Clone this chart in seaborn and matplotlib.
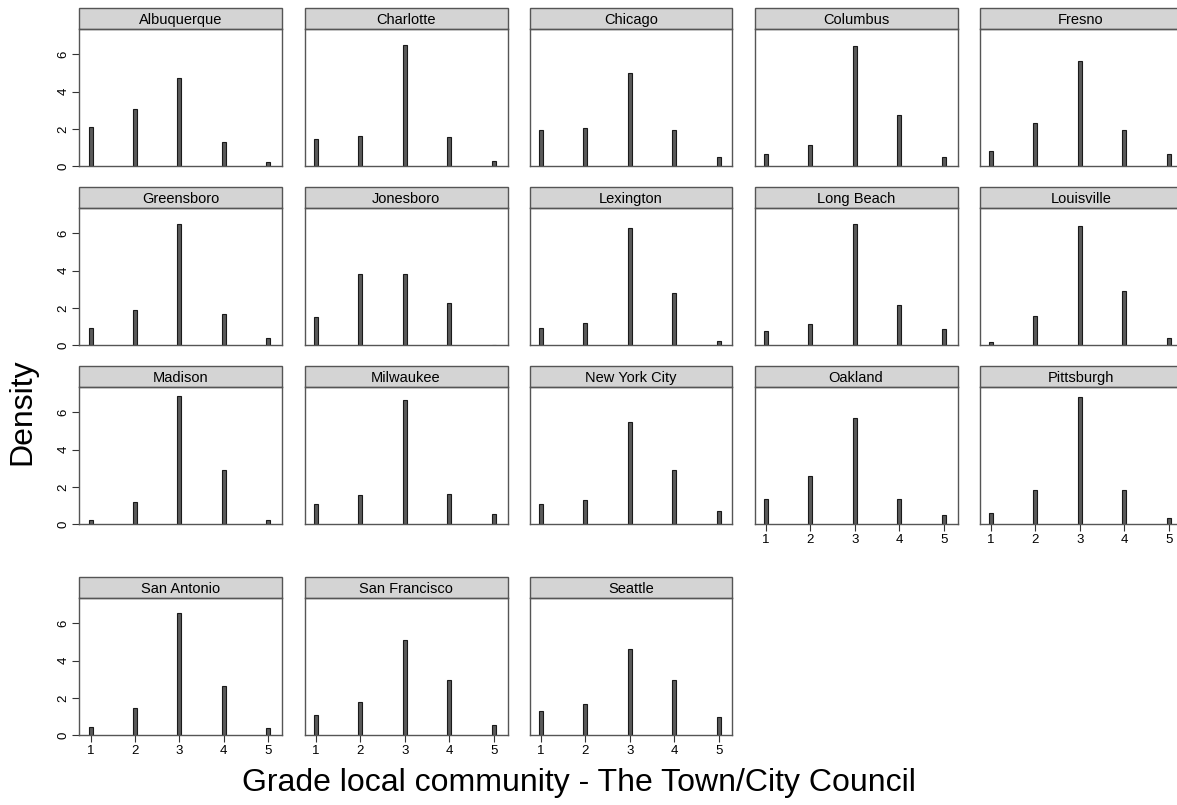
import matplotlib.pyplot as plt
import numpy as np
import pandas as pd
import seaborn as sns
from matplotlib.patches import Rectangle

cities = [
    "Albuquerque", "Charlotte", "Chicago", "Columbus", "Fresno",
    "Greensboro", "Jonesboro", "Lexington", "Long Beach", "Louisville",
    "Madison", "Milwaukee", "New York City", "Oakland", "Pittsburgh",
    "San Antonio", "San Francisco", "Seattle",
]
grades = [1, 2, 3, 4, 5]

# density per grade (1..5)
albuquerque = [2.08, 3.05, 4.76, 1.28, 0.22]
charlotte = [1.44, 1.63, 6.52, 1.54, 0.29]
chicago = [1.96, 2.03, 4.99, 1.94, 0.48]
columbus = [0.63, 1.11, 6.47, 2.73, 0.47]
fresno = [0.81, 2.34, 5.66, 1.94, 0.66]
greensboro = [0.92, 1.88, 6.50, 1.68, 0.38]
jonesboro = [1.50, 3.82, 3.82, 2.26, 0.0]
lexington = [0.92, 1.16, 6.32, 2.79, 0.20]
long_beach = [0.74, 1.14, 6.49, 2.17, 0.87]
louisville = [0.16, 1.56, 6.39, 2.92, 0.36]
madison = [0.24, 1.21, 6.87, 2.88, 0.24]
milwaukee = [1.05, 1.54, 6.69, 1.63, 0.56]
new_york_city = [1.07, 1.28, 5.48, 2.88, 0.72]
oakland = [1.32, 2.57, 5.70, 1.32, 0.51]
pittsburgh = [0.61, 1.83, 6.84, 1.83, 0.34]
san_antonio = [0.45, 1.46, 6.56, 2.64, 0.36]
san_francisco = [1.10, 1.76, 5.10, 2.96, 0.56]
seattle = [1.28, 1.67, 4.62, 2.95, 0.95]

series = [
    albuquerque, charlotte, chicago, columbus, fresno,
    greensboro, jonesboro, lexington, long_beach, louisville,
    madison, milwaukee, new_york_city, oakland, pittsburgh,
    san_antonio, san_francisco, seattle,
]

rows = []
for city, vals in zip(cities, series):
    for grade, d in zip(grades, vals):
        rows.append({"city": city, "grade": grade, "density": d})
df = pd.DataFrame(rows)

sns.set_theme(style="white")
plt.rcParams["font.family"] = ["Liberation Sans", "DejaVu Sans"]
plt.rcParams["text.color"] = "black"
plt.rcParams["xtick.color"] = "black"
plt.rcParams["ytick.color"] = "black"

W, H = 1177, 805
g = sns.FacetGrid(
    df, col="city", col_wrap=5, col_order=cities,
    sharex=True, sharey=True, despine=False,
)
g.map_dataframe(
    sns.histplot, x="grade", weights="density", discrete=True,
    shrink=0.09, stat="count", color="#5a5a5a", edgecolor="#1a1a1a",
    linewidth=0.8, alpha=1,
)
g.set_titles(template="")
g.set_axis_labels("", "")
fig = g.figure
fig.set_size_inches(W / 100, H / 100)

col_left = [79, 304.5, 529.5, 754.5, 979.5]
panel_w = 203
row_top = [29, 208, 387, 598]
panel_h = 137
strip_h = 21

for i, (ax, city) in enumerate(zip(g.axes.flat, cities)):
    r, c = divmod(i, 5)
    x0 = col_left[c]
    y_bottom = row_top[r] + panel_h
    ax.set_position([x0 / W, 1 - y_bottom / H, panel_w / W, panel_h / H])
    ax.set_xlim(0.74, 5.31)
    ax.set_ylim(0, 7.37)
    ax.set_xticks(grades)
    ax.set_yticks([0, 2, 4, 6])
    ax.set_xlabel("")
    ax.set_ylabel("")
    for sp in ax.spines.values():
        sp.set_color("#555555")
        sp.set_linewidth(1.0)
    show_x = i >= 13
    show_y = c == 0
    ax.tick_params(
        axis="x", bottom=show_x, labelbottom=show_x, direction="out",
        length=5, width=0.8, color="#333333", labelcolor="black",
        labelsize=9.5, pad=2,
    )
    ax.tick_params(
        axis="y", left=show_y, labelleft=show_y, direction="out",
        length=5, width=0.8, color="#333333", labelcolor="black",
        labelsize=9.5, pad=2, labelrotation=90,
    )
    for lab in ax.get_yticklabels():
        lab.set_va("center")
    frac = strip_h / panel_h
    ax.add_patch(Rectangle(
        (0, 1), 1, frac, transform=ax.transAxes, clip_on=False,
        facecolor="#d4d4d4", edgecolor="#555555", linewidth=1.0,
    ))
    ax.text(0.5, 1 + frac / 2, city, transform=ax.transAxes,
            ha="center", va="center_baseline", fontsize=10.5, color="black")

fig.text(579 / W, 1 - 783 / H, "Grade local community - The Town/City Council",
         ha="center", va="center", fontsize=23, color="black")
fig.text(22 / W, 1 - 412 / H, "Density", ha="center", va="center",
         rotation=90, fontsize=23, color="black")

fig.savefig("out.png", dpi=100)
